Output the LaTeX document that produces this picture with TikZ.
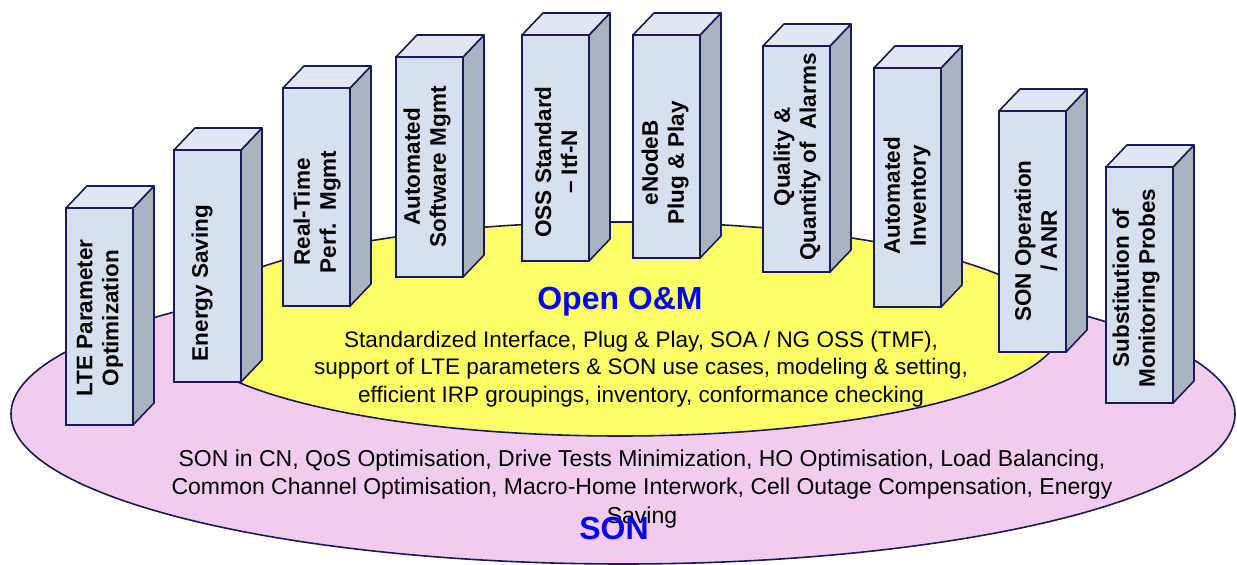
\documentclass[tikz,border=0pt]{standalone}
\usepackage{fontspec}
\setmainfont{Liberation Sans}
\usetikzlibrary{positioning}
\definecolor{edgecol}{RGB}{26,26,90}
\definecolor{frontcol}{RGB}{214,224,238}
\definecolor{sidecol}{RGB}{170,180,192}
\definecolor{topcol}{RGB}{225,231,243}
\definecolor{omcol}{RGB}{255,255,102}
\definecolor{soncol}{RGB}{242,204,238}
\tikzset{
  pillarfront/.style={draw=edgecol, fill=frontcol, line width=0.8pt, minimum width=33.5pt, inner sep=0, outer sep=0, anchor=north west},
  pillarface/.style={draw=edgecol, line width=0.8pt, line join=round},
  pillartext/.style={rotate=90, align=center, inner sep=0, font=\bfseries\fontsize{11.25}{13}\selectfont},
  zone/.style={draw=edgecol, line width=0.8pt},
  title/.style={text=blue, font=\bfseries\fontsize{16}{18}\selectfont},
  zonetext/.style={align=center, inner sep=0},
}

\begin{document}
\begin{tikzpicture}[x=0.5pt, y=-0.5pt]
	\useasboundingbox (0,0) rectangle (1237,565);

	% the two areas
	\draw[zone, fill=soncol] (623,414) ellipse [x radius=612, y radius=150];
	\draw[zone, fill=omcol] (620,329) ellipse [x radius=440, y radius=107];

	\node[zonetext, font=\fontsize{11.5}{14.25}\selectfont] (sontxt) at (642,489)
		{SON in CN, QoS Optimisation, Drive Tests Minimization, HO Optimisation, Load Balancing,\\
		 Common Channel Optimisation, Macro-Home Interwork, Cell Outage Compensation, Energy\\ Saving};
	\node[title, anchor=base] (son) at (614,540) {SON};

	\node[title, anchor=base] (om) at (620,310) {Open O\&M};
	\node[zonetext, font=\fontsize{11.25}{13.75}\selectfont] (omtxt) at (641,369)
		{Standardized Interface, Plug \& Play, SOA / NG OSS (TMF),\\
		 support of LTE parameters \& SON use cases, modeling \& setting,\\
		 efficient IRP groupings, inventory, conformance checking};

	% pillars: name / left / top / bottom / text centre
	\foreach \n/\xl/\yt/\yb/\xc/\yc/\txt in {
		1/66/208/425/100/318/{LTE Parameter\\Optimization},
		2/174/150/382/202/283/{Energy Saving},
		3/283/88/306/317/212/{Real-Time\\Perf.\ \ Mgmt},
		4/396/57/277/427/167/{Automated\\Software Mgmt},
		5/522/35/261/556/162/{OSS Standard\\-- Itf-N},
		6/633/35/258/665/163/{eNodeB\\Plug \& Play},
		7/763/46/272/797/157/{Quality \&\\Quantity of\ \ Alarms},
		8/874/68/307/907/196/{Automated\\Inventory},
		9/999/111/352/1036/241/{SON Operation\\/ ANR},
		10/1106/167/403/1136/288/{Substitution of\\Monitoring Probes}}{
		\node[pillarfront, minimum height={(\yb-\yt)*0.5pt}] (p\n) at (\xl,\yt) {};
		\draw[pillarface, fill=sidecol] (p\n.north east) -- ++(21,-22) -- ++(0,\yb-\yt) -- (p\n.south east) -- cycle;
		\draw[pillarface, fill=topcol] (p\n.north west) -- ++(21,-22) -- ++(67,0) -- (p\n.north east) -- cycle;
		\node[pillartext] (t\n) at (\xc,\yc) {\txt};
	}
\end{tikzpicture}
\end{document}
